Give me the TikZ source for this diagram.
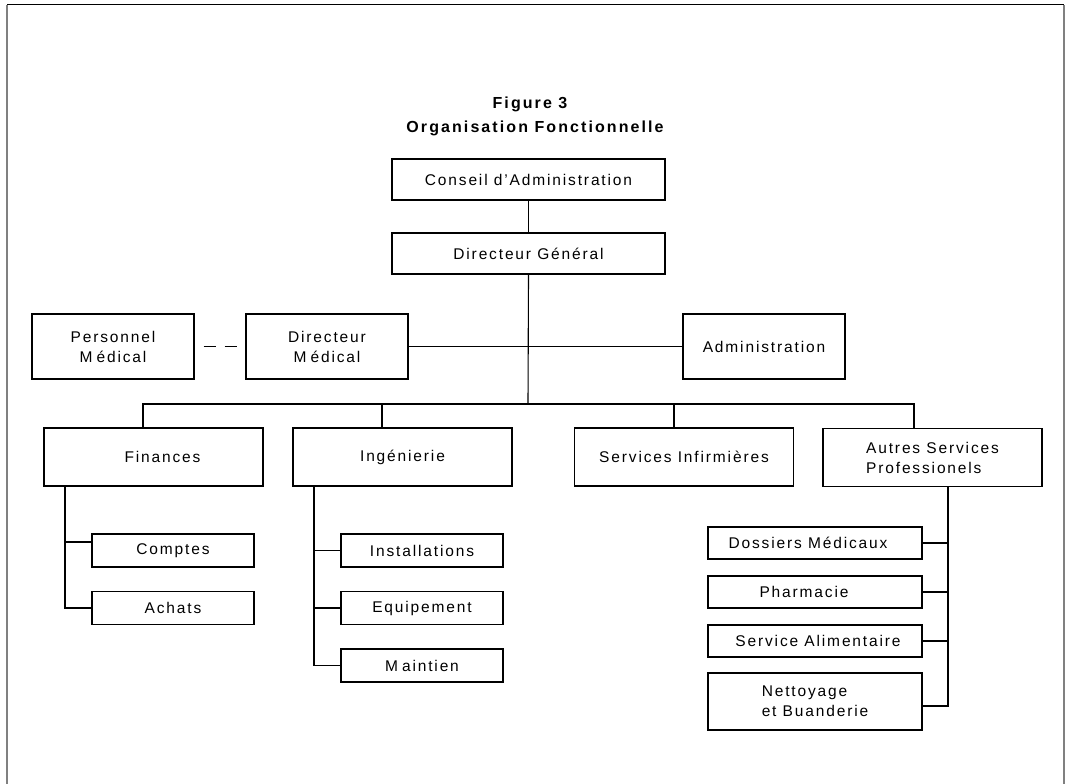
\documentclass[tikz,border=0pt]{standalone}
\usepackage{fontspec}
\setmainfont{Liberation Sans}[LetterSpace=12]
\newfontfamily\headfont{Liberation Sans}[LetterSpace=13]
\begin{document}
\begin{tikzpicture}[x=1pt,y=-1pt,
  box/.style={draw, line width=1.1pt, inner sep=0pt, align=center,
    font=\fontsize{15.5}{20}\selectfont},
  wide/.style={box, minimum width=273pt, minimum height=41pt},
  mid/.style={box, minimum width=162pt, minimum height=65pt},
  dept/.style={box, minimum width=219pt, minimum height=58pt},
  small/.style={box, minimum width=162pt, minimum height=33pt},
  unit/.style={box, minimum width=214pt, minimum height=32pt},
  link/.style={line width=1.1pt},
  title/.style={font=\headfont\fontsize{16}{19}\selectfont\bfseries}]
\useasboundingbox (0,0) rectangle (1065,784);

% page frame
\draw[line width=1pt] (7,5) -- (1064,5);
\draw[gray, line width=1.7pt] (7,5) -- (7,784);
\draw[gray, line width=1.7pt] (1064,5) -- (1064,784);

% heading
\node[title] (fig) at (530,104) {Figure 3};
\node[title] (org) at (535,128) {Organisation Fonctionnelle};

% top of the organisation
\node[wide] (conseil) at (528.5,179.5) {Conseil d’Administration};
\node[wide] (dg) at (528.5,253.5) {Directeur Général};
\node[mid] (pm) at (113,346.5) {Personnel\\M\kern4pt édical};
\node[mid] (dm) at (327,346.5) {Directeur\\M\kern4pt édical};
\node[mid] (adm) at (764,346.5) {Administration};

% departments
\node[dept] (fin) at (153.5,457) {\hspace*{18pt}Finances};
\node[dept] (ing) at (402.5,457) {Ingénierie};
\node[dept] (si) at (684,457) {Services Infirmières};
\node[dept, align=left] (asp) at (932.5,457.5) {Autres Services\\Professionels};

% units
\node[small] (cpt) at (173,550.5) {Comptes};
\node[small] (ach) at (173,608) {Achats};
\node[small] (inst) at (422,550.5) {Installations};
\node[small] (equ) at (422,608) {Equipement};
\node[small] (mnt) at (422,665.5) {M\kern4pt aintien};
\node[unit] (dos) at (815,543) {Dossiers Médicaux\hspace*{14pt}};
\node[unit] (pha) at (815,592) {Pharmacie\hspace*{22pt}};
\node[unit] (ali) at (815,641) {\hspace*{6pt}Service Alimentaire};
\node[unit, minimum height=57pt, align=left] (net) at (815,701.5) {Nettoyage\\et Buanderie};

% hierarchy lines
\coordinate (bus) at (528,404);
\coordinate (finx) at (143,404);
\coordinate (ingx) at (382,404);
\coordinate (six) at (674,404);
\coordinate (aspx) at (914,404);
\draw[link] (conseil.south) -- (dg.north);
\draw[link] (dg.south) -- (bus);
\draw[link] (dm.east) -- (adm.west);
\draw[link, dash pattern=on 12pt off 9pt, dash phase=12pt] (pm.east) -- (dm.west);
\draw[link] (finx |- fin.north) -- (finx) -- (aspx) -- (aspx |- asp.north);
\draw[link] (ingx |- ing.north) -- (ingx);
\draw[link] (six |- si.north) -- (six);

% sub-units of Finances
\coordinate (ftap) at (65,542);
\coordinate (cptin) at (92,542);
\draw[link] (ftap |- fin.south) |- (ach.west);
\draw[link] (ftap) -- (cptin);

% sub-units of Ingenierie
\coordinate (ix) at (314,0);
\draw[link] (ix |- ing.south) |- (mnt.west);
\draw[link] (ix |- inst.west) -- (inst.west);
\draw[link] (ix |- equ.west) -- (equ.west);

% sub-units of Autres Services
\coordinate (atap) at (948,706);
\coordinate (netout) at (922,706);
\draw[link] (atap |- asp.south) -- (atap) -- (netout);
\draw[link] (dos.east) -- (dos.east -| atap);
\draw[link] (pha.east) -- (pha.east -| atap);
\draw[link] (ali.east) -- (ali.east -| atap);
\end{tikzpicture}
\end{document}
